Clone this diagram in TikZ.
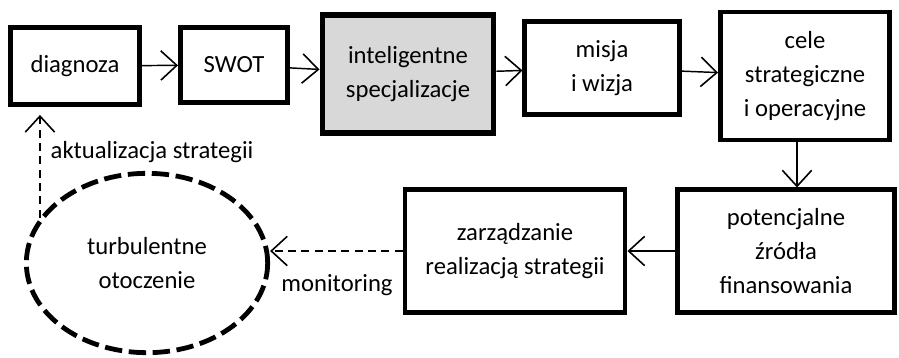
\documentclass[tikz,border=0pt]{standalone}
\usepackage{fontspec}
\setmainfont{Carlito}
\usetikzlibrary{arrows.meta}
\usetikzlibrary{shapes.geometric}

\definecolor{boxgray}{RGB}{216,216,216}

\tikzset{
	box/.style={draw,line width=3.4pt,align=center,inner sep=2pt},
	flow/.style={-{Straight Barb[length=12pt,width=22pt,line width=1.2pt]},line width=1.1pt},
	loopflow/.style={flow,dash pattern=on 6pt off 4pt},
}

\begin{document}
\begin{tikzpicture}[x=0.75pt,y=-0.75pt,font=\fontsize{18.5}{25.5}\selectfont]
	\useasboundingbox (0,0) rectangle (899,357);
	% top row
	\node[box,minimum width=97pt,minimum height=58pt] (diag) at (75,66) {diagnoza};
	\node[box,minimum width=80.6pt,minimum height=56.6pt] (swot) at (234,65) {SWOT};
	\node[box,line width=4.2pt,fill=boxgray,minimum width=128.5pt,minimum height=88.8pt] (intel) at (408,74) {inteligentne\\specjalizacje};
	\node[box,minimum width=115.9pt,minimum height=69.4pt] (misja) at (602,68) {misja\\i wizja};
	\node[box,minimum width=127pt,minimum height=96.3pt] (cele) at (805,76) {cele\\strategiczne\\i operacyjne};
	% bottom row
	\node[box,minimum width=163pt,minimum height=91.9pt] (zrodla) at (786,251) {potencjalne\\źródła\\finansowania};
	\node[box,minimum width=165.3pt,minimum height=91.9pt] (zarz) at (515,251) {zarządzanie\\realizacją strategii};
	\node[ellipse,draw,line width=3.6pt,dash pattern=on 13pt off 5pt,inner sep=0pt,minimum width=181pt,minimum height=134.5pt,align=center] (otocz) at (147,263) {turbulentne\\otoczenie};

	\draw[flow] (diag) -- (swot);
	\draw[flow] (swot) -- (intel);
	\draw[flow] (intel) -- (misja);
	\draw[flow] (misja) -- (cele);
	\draw[flow] ([xshift=-6pt]cele.south) -- ([xshift=-6pt]cele.south |- zrodla.north);
	\draw[flow] (zrodla) -- (zarz);
	\draw[loopflow] (zarz.west) -- (zarz.west -| otocz.east);
	\draw[loopflow,shorten >=6pt] (otocz.157) -- (otocz.157 |- diag.south);

	\node[anchor=west] (aktual) at (46,152) {aktualizacja strategii};
	\node (monit) at (337,285) {monitoring};
\end{tikzpicture}
\end{document}
